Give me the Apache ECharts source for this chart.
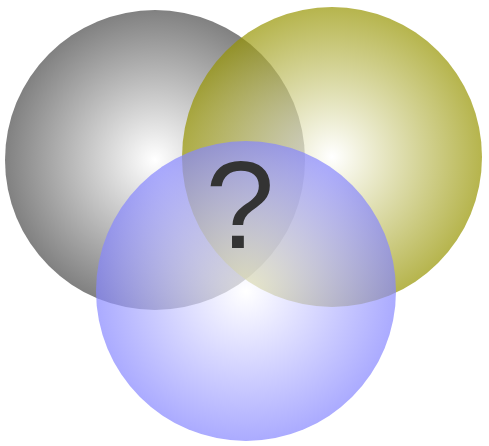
<!DOCTYPE html>
<html>
<head>
<meta charset="utf-8">
<script src="https://cdn.jsdelivr.net/npm/echarts@6/dist/echarts.min.js"></script>
<style>
html,body{margin:0;padding:0;background:#fff;}
#chart{width:489px;height:446px;}
</style>
</head>
<body>
<div id="chart"></div>
<script>
// circle centres in pixel-like data units, diameter of each
var names = ["gray", "olive", "blue"];
var centerX = [155, 332, 246];
var centerY = [160, 157, 291];
var diameter = [300, 300, 300];
var edgeColors = ["rgb(74,74,74)", "rgb(150,148,0)", "rgb(134,134,255)"];
var markText = "?";
var markPos = [240, 214];

function grad(c) {
    return {
        type: "radial", x: 0.5, y: 0.5, r: 0.5,
        colorStops: [
            {offset: 0, color: "#ffffff"},
            {offset: 1, color: c}
        ]
    };
}

var circles = [];
for (var i = 0; i < names.length; i++) {
    circles.push({
        name: names[i],
        value: [centerX[i], centerY[i]],
        symbolSize: diameter[i],
        itemStyle: {color: grad(edgeColors[i]), opacity: 0.7}
    });
}

var chart = echarts.init(document.getElementById("chart"));
chart.setOption({
    animation: false,
    grid: {left: 0, right: 0, top: 0, bottom: 0},
    xAxis: {type: "value", min: 0, max: 489, show: false},
    yAxis: {type: "value", min: 0, max: 446, inverse: true, show: false},
    series: [
        {
            type: "scatter",
            data: circles,
            silent: true
        },
        {
            type: "scatter",
            symbolSize: 0,
            silent: true,
            itemStyle: {color: "#333", opacity: 1},
            data: [markPos],
            label: {
                show: true,
                position: "inside",
                formatter: markText,
                fontSize: 124,
                fontFamily: "Liberation Sans",
                color: "#333",
                textBorderWidth: 0,
                opacity: 1
            },
            z: 10
        }
    ]
});
</script>
</body>
</html>
